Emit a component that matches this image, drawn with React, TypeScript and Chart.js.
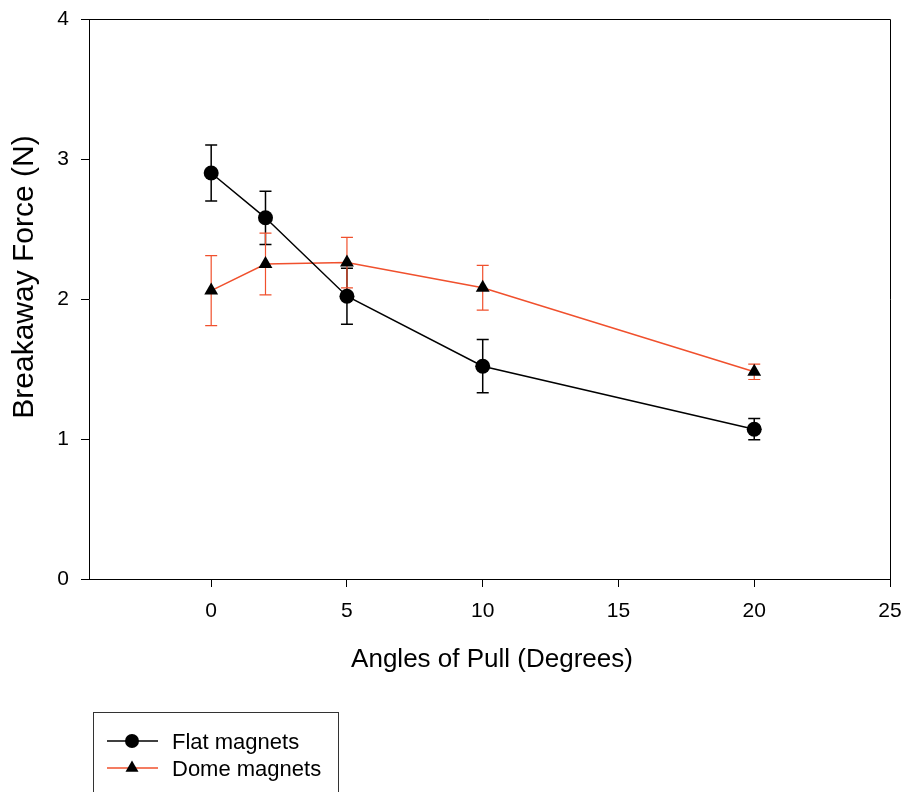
import React, { useEffect, useRef } from "react";
import { Chart, registerables } from "chart.js";

Chart.register(...registerables);

const angles = [0, 2, 5, 10, 20];
const flatForce = [2.9, 2.58, 2.02, 1.52, 1.07];
const flatErr = [0.2, 0.19, 0.2, 0.19, 0.076];
const domeForce = [2.06, 2.25, 2.26, 2.08, 1.48];
const domeErr = [0.25, 0.22, 0.18, 0.16, 0.055];
const xTicks = [0, 5, 10, 15, 20, 25];
const yTicks = [0, 1, 2, 3, 4];
const seriesLabels = ["Flat magnets", "Dome magnets"];
const xTitle = "Angles of Pull (Degrees)";
const yTitle = "Breakaway Force (N)";

const FONT = "Arial, 'Liberation Sans', sans-serif";
const RED = "#f0502d";

const errorBars = {
  id: "errorBars",
  beforeDatasetsDraw(chart: any) {
    const { ctx } = chart;
    const xs = chart.scales.x;
    const ys = chart.scales.y;
    chart.data.datasets.forEach((ds: any) => {
      const errs = ds.errors || [];
      ctx.save();
      ctx.strokeStyle = ds.errorColor;
      ctx.lineWidth = ds.errorWidth;
      ds.data.forEach((pt: any, j: number) => {
        const px = xs.getPixelForValue(pt.x);
        const top = ys.getPixelForValue(pt.y + errs[j]);
        const bot = ys.getPixelForValue(pt.y - errs[j]);
        const cw = 6;
        ctx.beginPath();
        ctx.moveTo(px, top);
        ctx.lineTo(px, bot);
        ctx.moveTo(px - cw, top);
        ctx.lineTo(px + cw, top);
        ctx.moveTo(px - cw, bot);
        ctx.lineTo(px + cw, bot);
        ctx.stroke();
      });
      ctx.restore();
    });
  },
};

const frameAndLegend = {
  id: "frameAndLegend",
  afterDraw(chart: any) {
    const { ctx, chartArea } = chart;
    ctx.save();
    ctx.strokeStyle = "#000";
    ctx.lineWidth = 1;
    ctx.beginPath();
    ctx.moveTo(chartArea.left, chartArea.top + 0.5);
    ctx.lineTo(chartArea.right + 0.5, chartArea.top + 0.5);
    ctx.lineTo(chartArea.right + 0.5, chartArea.bottom);
    ctx.stroke();

    // axis titles
    ctx.fillStyle = "#000";
    ctx.textAlign = "center";
    ctx.textBaseline = "alphabetic";
    ctx.font = `26px ${FONT}`;
    ctx.fillText(xTitle, 492, 667);
    ctx.save();
    ctx.translate(33, 277);
    ctx.rotate(-Math.PI / 2);
    ctx.font = `30px ${FONT}`;
    ctx.fillText(yTitle, 0, 0);
    ctx.restore();

    // legend box
    ctx.strokeStyle = "#333";
    ctx.lineWidth = 1;
    ctx.strokeRect(93.5, 712.5, 245, 100);
    const rows = [741, 768];
    chart.data.datasets.forEach((ds: any, i: number) => {
      const y = rows[i];
      ctx.strokeStyle = ds.borderColor;
      ctx.lineWidth = 1.5;
      ctx.beginPath();
      ctx.moveTo(107, y);
      ctx.lineTo(158, y);
      ctx.stroke();
      ctx.fillStyle = "#000";
      ctx.beginPath();
      if (ds.pointStyle === "triangle") {
        const r = 7.5;
        ctx.moveTo(132, y - r);
        ctx.lineTo(132 + r * 0.866, y + r * 0.5);
        ctx.lineTo(132 - r * 0.866, y + r * 0.5);
        ctx.closePath();
      } else {
        ctx.arc(132, y, 7, 0, Math.PI * 2);
      }
      ctx.fill();
      ctx.fillStyle = "#000";
      ctx.font = `22px ${FONT}`;
      ctx.textBaseline = "alphabetic";
      ctx.textAlign = "left";
      ctx.fillText(ds.label, 172, y + 8);
    });
    ctx.restore();
  },
};

export default function App() {
  const ref = useRef<HTMLCanvasElement>(null);
  useEffect(() => {
    document.body.style.margin = "0";
    const canvas = ref.current;
    if (!canvas) return;
    const chart = new Chart(canvas, {
      type: "line",
      data: {
        datasets: [
          {
            label: seriesLabels[0],
            data: angles.map((a, i) => ({ x: a, y: flatForce[i] })),
            borderColor: "#000",
            backgroundColor: "#000",
            borderWidth: 1.5,
            pointStyle: "circle",
            pointRadius: 7.5,
            pointHoverRadius: 7.5,
            pointBorderWidth: 0,
            pointBackgroundColor: "#000",
            errors: flatErr,
            errorColor: "#000",
            errorWidth: 1.5,
          } as any,
          {
            label: seriesLabels[1],
            data: angles.map((a, i) => ({ x: a, y: domeForce[i] })),
            borderColor: RED,
            backgroundColor: "#000",
            borderWidth: 1.5,
            pointStyle: "triangle",
            pointRadius: 8,
            pointHoverRadius: 8,
            pointBorderWidth: 0,
            pointBackgroundColor: "#000",
            errors: domeErr,
            errorColor: RED,
            errorWidth: 1.2,
          } as any,
        ],
      },
      options: {
        responsive: false,
        animation: false,
        layout: { padding: { top: 19, right: 12, bottom: 113, left: 0 } },
        plugins: { legend: { display: false }, tooltip: { enabled: false } },
        scales: {
          x: {
            type: "linear",
            min: -4.5,
            max: 25,
            afterBuildTicks: (s: any) => {
              s.ticks = xTicks.map((v) => ({ value: v }));
            },
            afterFit: (s: any) => {
              s.height = 100;
              s.paddingLeft = 0;
              s.paddingRight = 0;
            },
            grid: {
              drawOnChartArea: false,
              drawTicks: true,
              tickLength: 8,
              color: "#000",
              lineWidth: 1,
            },
            border: { display: true, color: "#000", width: 1 },
            ticks: {
              color: "#000",
              font: { family: FONT, size: 21 },
              padding: 12,
              maxRotation: 0,
            },
            title: { display: false },
          },
          y: {
            type: "linear",
            min: 0,
            max: 4,
            afterBuildTicks: (s: any) => {
              s.ticks = yTicks.map((v) => ({ value: v }));
            },
            afterFit: (s: any) => {
              s.width = 89;
              s.paddingTop = 0;
              s.paddingBottom = 0;
            },
            grid: {
              drawOnChartArea: false,
              drawTicks: true,
              tickLength: 8,
              color: "#000",
              lineWidth: 1,
            },
            border: { display: true, color: "#000", width: 1 },
            ticks: {
              color: "#000",
              font: { family: FONT, size: 21 },
              padding: 12,
            },
            title: { display: false },
          },
        },
      },
      plugins: [errorBars, frameAndLegend],
    });
    return () => chart.destroy();
  }, []);
  return (
    <div style={{ position: "absolute", left: 0, top: 0 }}>
      <canvas ref={ref} width={902} height={792} />
    </div>
  );
}
